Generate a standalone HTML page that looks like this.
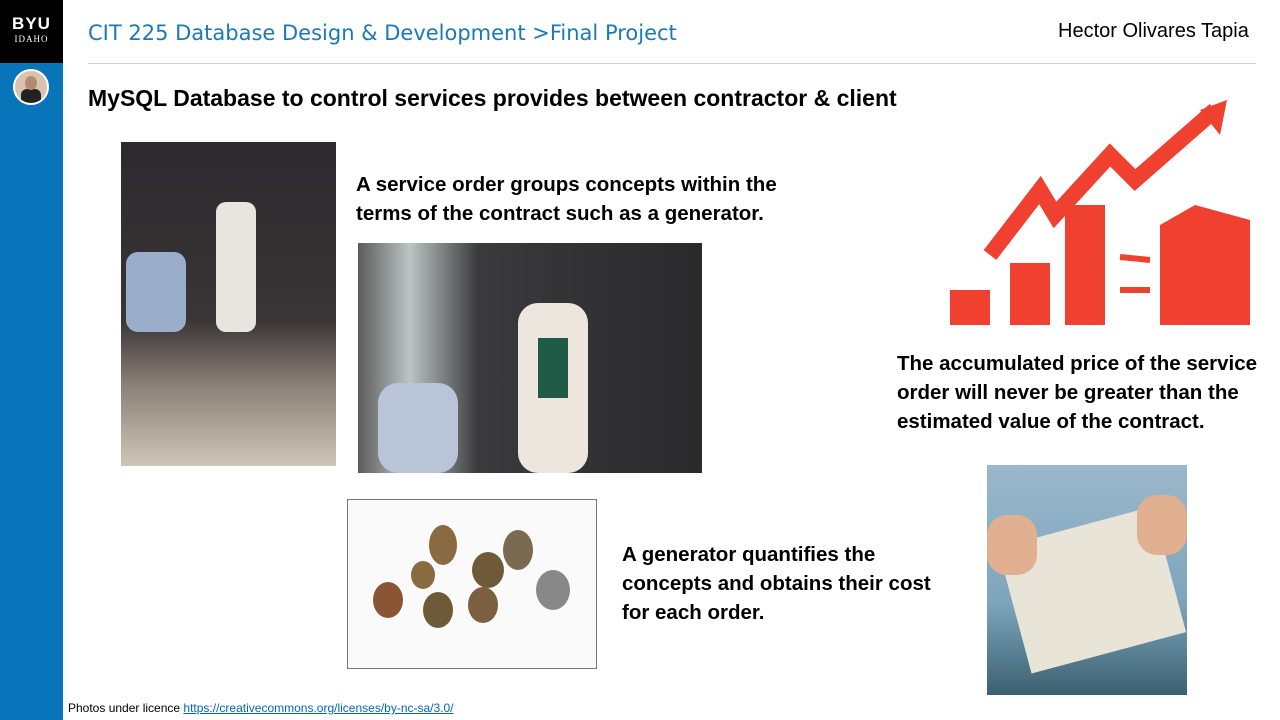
<!DOCTYPE html>
<html><head><meta charset="utf-8">
<style>
body{margin:0;width:1280px;height:720px;background:#fff;position:relative;overflow:hidden;font-family:"Liberation Sans",sans-serif}
.a{position:absolute}
.t{font-weight:bold;font-size:20.5px;line-height:29px;color:#000}
</style></head><body>
<div class="a" style="left:0;top:0;width:63px;height:720px;background:#0874b9"></div>
<div class="a" style="left:0;top:0;width:63px;height:63px;background:#000;color:#fff;text-align:center">
 <div style="font-weight:bold;font-size:17px;margin-top:14px;letter-spacing:1px">BYU</div>
 <div style="font-family:'Liberation Serif',serif;font-size:9px;letter-spacing:1px">IDAHO</div>
</div>
<div class="a" style="left:13px;top:69px;width:32px;height:32px;border-radius:50%;background:#d9c3b0;border:2px solid #fff;overflow:hidden">
 <div style="position:absolute;left:6px;top:18px;width:20px;height:14px;background:#222;border-radius:6px 6px 0 0"></div>
 <div style="position:absolute;left:10px;top:5px;width:12px;height:14px;background:#b58a70;border-radius:50%"></div>
</div>
<div class="a" style="left:88px;top:21px;color:#1a7ab9;font-family:'DejaVu Sans',sans-serif;font-size:21px">CIT 225 Database Design &amp; Development &gt;Final Project</div>
<div class="a" style="left:1058px;top:20px;font-size:20px;color:#000">Hector Olivares Tapia</div>
<div class="a" style="left:88px;top:63px;width:1168px;height:1px;background:#d0d0d0"></div>
<div class="a t" style="left:88px;top:84px;font-size:23px">MySQL Database to control services provides between contractor &amp; client</div>

<div class="a" style="left:121px;top:142px;width:215px;height:324px;background:linear-gradient(180deg,#2b2a2e 0%,#3a3536 55%,#8a8078 75%,#cfc6b8 100%)">
 <div style="position:absolute;left:95px;top:60px;width:40px;height:130px;background:#e8e4e0;border-radius:10px"></div>
 <div style="position:absolute;left:5px;top:110px;width:60px;height:80px;background:#9aaecc;border-radius:12px"></div>
</div>
<div class="a t" style="left:356px;top:170px">A service order groups concepts within the<br>terms of the contract such as a generator.</div>
<div class="a" style="left:358px;top:243px;width:344px;height:230px;background:linear-gradient(90deg,#5b5b5b 0%,#bcc4c4 15%,#3a3a3c 35%,#2a2a2c 100%)">
 <div style="position:absolute;left:160px;top:60px;width:70px;height:170px;background:#ece6de;border-radius:20px"></div>
 <div style="position:absolute;left:180px;top:95px;width:30px;height:60px;background:#1f5a46"></div>
 <div style="position:absolute;left:20px;top:140px;width:80px;height:90px;background:#b9c4d8;border-radius:20px"></div>
</div>
<div class="a" style="left:945px;top:95px;width:310px;height:235px">
 <svg width="310" height="235"><g fill="#f04030">
  <rect x="5" y="195" width="40" height="35"/><rect x="65" y="168" width="40" height="62"/><rect x="120" y="110" width="40" height="120"/>
  <polygon points="215,130 250,110 305,125 305,230 215,230"/>
 </g>
 <polyline points="45,160 95,95 110,120 165,60 190,85 270,15" fill="none" stroke="#f04030" stroke-width="16"/>
 <polygon points="255,15 282,5 275,40" fill="#f04030"/>
 <polyline points="205,165 175,162" stroke="#f04030" stroke-width="6"/>
 <polyline points="175,195 205,195" stroke="#f04030" stroke-width="6"/>
 </svg>
</div>
<div class="a t" style="left:897px;top:349px">The accumulated price of the service<br>order will never be greater than the<br>estimated value of the contract.</div>
<div class="a" style="left:347px;top:499px;width:248px;height:168px;border:1px solid #777;background:#fafafa">
 <svg width="248" height="168"><g fill="#8a6a40">
  <ellipse cx="95" cy="45" rx="14" ry="20"/><ellipse cx="170" cy="50" rx="15" ry="20" fill="#7a6a50"/>
  <ellipse cx="140" cy="70" rx="16" ry="18" fill="#6f5a38"/><ellipse cx="75" cy="75" rx="12" ry="14"/>
  <ellipse cx="40" cy="100" rx="15" ry="18" fill="#8a5535"/><ellipse cx="90" cy="110" rx="15" ry="18" fill="#6f5a38"/>
  <ellipse cx="135" cy="105" rx="15" ry="18" fill="#7a6040"/><ellipse cx="205" cy="90" rx="17" ry="20" fill="#888"/>
 </g></svg>
</div>
<div class="a t" style="left:622px;top:540px">A generator quantifies the<br>concepts and obtains their cost<br>for each order.</div>
<div class="a" style="left:987px;top:465px;width:200px;height:230px;background:linear-gradient(180deg,#9ab8cc 0%,#7ea4bc 60%,#3a6070 100%)">
 <div style="position:absolute;left:25px;top:60px;width:160px;height:130px;background:#e8e4d8;transform:rotate(-15deg)"></div>
 <div style="position:absolute;left:0;top:50px;width:50px;height:60px;background:#e0b090;border-radius:20px"></div>
 <div style="position:absolute;left:150px;top:30px;width:50px;height:60px;background:#e0b090;border-radius:20px"></div>
</div>
<div class="a" style="left:68px;top:701px;font-size:12px">Photos under licence <a style="color:#0563c1;text-decoration:underline">https://creativecommons.org/licenses/by-nc-sa/3.0/</a></div>
</body></html>
